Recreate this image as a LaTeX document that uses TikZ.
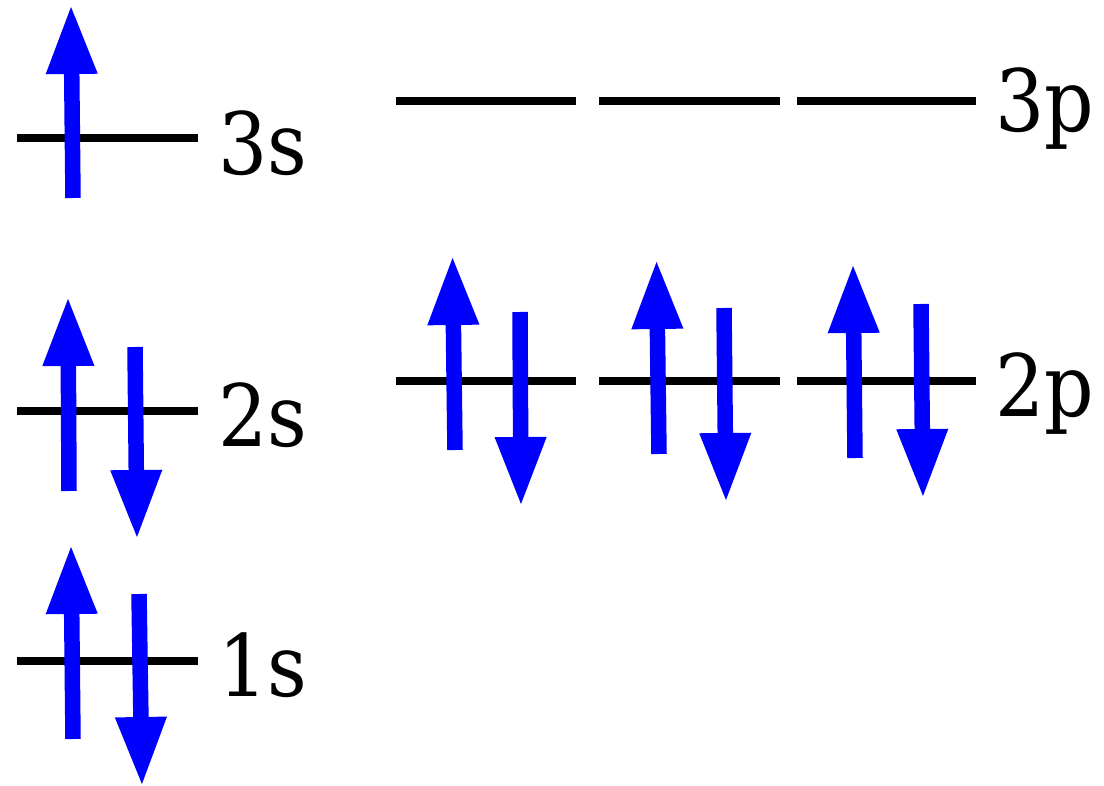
\documentclass[tikz,border=0pt]{standalone}
\usepackage{fontspec}
\setmainfont{DejaVu Serif Condensed}
\usetikzlibrary{arrows.meta}
\begin{document}
\begin{tikzpicture}[x=0.5pt,y=-0.5pt,
  level/.style={line width=4pt,draw=black},
  spin/.style={line width=7.75pt,draw=blue,-{Triangle[length=35pt,width=23.5pt]}},
  lbl/.style={anchor=base west,inner sep=0pt,font=\fontsize{43pt}{50pt}\selectfont}]
\useasboundingbox (0,0) rectangle (1104,786);
% levels
\draw[level] (17,138) -- (198,138);
\draw[level] (17,411) -- (198,411);
\draw[level] (17,661) -- (198,661);
\foreach \a/\b in {396/576,599/780,797/976}{
  \draw[level] (\a,101) -- (\b,101);
  \draw[level] (\a,381) -- (\b,381);
}
% spins
\draw[spin] (73,198) -- (71,4);
\draw[spin] (69,491) -- (68,296);
\draw[spin] (135,347) -- (137,540);
\draw[spin] (73,739) -- (71,544);
\draw[spin] (139,594) -- (142,787);
\draw[spin] (455,450) -- (452.5,255);
\draw[spin] (520,312) -- (521,507);
\draw[spin] (659,454) -- (656.5,259);
\draw[spin] (724,308) -- (726,503);
\draw[spin] (855,458) -- (853,263);
\draw[spin] (921,304) -- (923,499);
% labels
\node[lbl] (l3s) at (218,175) {3s};
\node[lbl] (l2s) at (218,446) {2s};
\node[lbl] (l1s) at (218,696) {1s};
\node[lbl] (l3p) at (995,132) {3p};
\node[lbl] (l2p) at (995,416) {2p};
\end{tikzpicture}
\end{document}
